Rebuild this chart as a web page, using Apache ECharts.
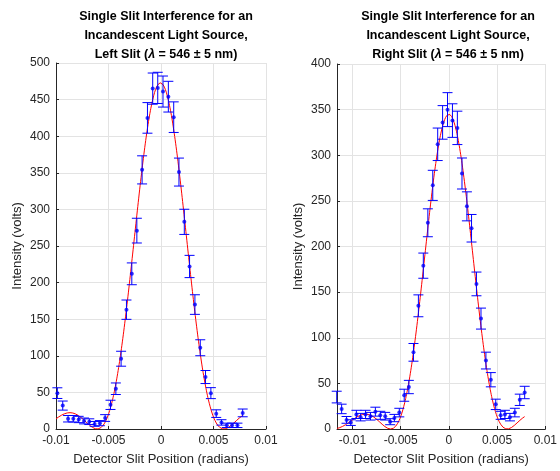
<!DOCTYPE html>
<html>
<head>
<meta charset="utf-8">
<script src="https://cdn.jsdelivr.net/npm/echarts@6/dist/echarts.min.js"></script>
<style>
  html, body { margin: 0; padding: 0; background: #fff; }
  #main { width: 560px; height: 471px; }
</style>
</head>
<body>
<div id="main"></div>
<script>
// left slit measurements
var leftX = [-0.00987, -0.00936, -0.00885, -0.00835, -0.00784, -0.00733, -0.00683, -0.00632, -0.00582, -0.00532,
    -0.00481, -0.00430, -0.00380, -0.00329, -0.00278, -0.00230, -0.00180, -0.00129, -0.00079, -0.00031,
    0.00019, 0.00070, 0.00121, 0.00171, 0.00222, 0.00272, 0.00323, 0.00374, 0.00424, 0.00475,
    0.00526, 0.00576, 0.00627, 0.00677, 0.00728, 0.00778];
var leftY = [49, 32, 14, 14, 13, 11, 10, 7, 8, 15,
    33, 55, 96, 163, 212, 271, 354, 425, 465, 466,
    461, 454, 426, 351, 283, 222, 170, 111, 71, 49,
    21, 9, 5, 5, 5, 22];
var leftErr = [7.3, 6.2, 4.4, 4.4, 4.3, 4.0, 3.9, 3.3, 3.5, 4.6,
    6.3, 7.9, 10.2, 13.2, 14.9, 16.9, 19.2, 20.9, 21.3, 21.3,
    21.2, 21.0, 20.9, 19.1, 17.2, 15.2, 13.4, 10.9, 8.9, 7.5,
    5.2, 3.7, 3.0, 3.0, 3.0, 5.3];

// right slit measurements
var rightX = [-0.01163, -0.01112, -0.01061, -0.01017, -0.00959, -0.00915, -0.00864, -0.00813, -0.00762, -0.00711,
    -0.00660, -0.00609, -0.00565, -0.00514, -0.00463, -0.00415, -0.00367, -0.00316, -0.00265, -0.00218,
    -0.00167, -0.00116, -0.00065, -0.00014, 0.00037, 0.00088, 0.00136, 0.00187, 0.00235, 0.00286,
    0.00333, 0.00384, 0.00435, 0.00486, 0.00537, 0.00581, 0.00633, 0.00684, 0.00735, 0.00786];
var rightY = [35, 22, 10, 7, 16, 13, 16, 14, 19, 15,
    14, 8, 12, 18, 37, 46, 84, 135, 179, 226,
    267, 312, 336, 350, 338, 330, 280, 244, 220, 159,
    121, 75, 54, 27, 15, 16, 13, 18, 32, 40];
var rightErr = [6.4, 5.2, 3.7, 3.1, 4.5, 4.1, 4.5, 4.2, 4.9, 4.4,
    4.2, 3.3, 4.0, 4.7, 6.6, 7.3, 9.7, 12.0, 13.8, 15.3,
    16.5, 17.8, 18.4, 18.6, 18.4, 18.3, 17.0, 15.9, 15.1, 13.0,
    11.5, 9.2, 7.8, 5.7, 4.4, 4.5, 4.1, 4.7, 6.2, 6.8];

// sinc^2 fit parameters
var leftFit = {amp: 473, center: -0.00005, zero: 0.00603, from: -0.0100, to: 0.0078};
var rightFit = {amp: 345, center: 0.0, zero: 0.00604, from: -0.0116, to: 0.0079};

var xTicks = [-0.01, -0.005, 0, 0.005, 0.01];
var leftTitle = 'Single Slit Interference for an\nIncandescent Light Source,\n{t|Left Slit (}{i|λ}{t| = 546 ± 5 nm)}';
var rightTitle = 'Single Slit Interference for an\nIncandescent Light Source,\n{t|Right Slit (}{i|λ}{t| = 546 ± 5 nm)}';

var FONT = 'Liberation Sans, Arial, Helvetica, sans-serif';
var AXIS_COLOR = '#262626';

function fitCurve(p) {
    var pts = [];
    var steps = 400;
    for (var i = 0; i <= steps; i++) {
        var x = p.from + (p.to - p.from) * i / steps;
        var u = Math.PI * (x - p.center) / p.zero;
        var s = Math.abs(u) < 1e-9 ? 1 : Math.sin(u) / u;
        pts.push([x, p.amp * s * s]);
    }
    return pts;
}

function pairs(xs, ys) {
    return xs.map(function (x, i) { return [x, ys[i]]; });
}

function errData(xs, ys, es) {
    return xs.map(function (x, i) { return [x, ys[i] - es[i], ys[i] + es[i]]; });
}

function errRender(params, api) {
    var x = api.value(0);
    var top = api.coord([x, api.value(2)]);
    var bot = api.coord([x, api.value(1)]);
    var w = 5;
    var st = {stroke: '#0000ff', lineWidth: 1};
    return {
        type: 'group',
        children: [
            {type: 'line', shape: {x1: top[0], y1: top[1], x2: bot[0], y2: bot[1]}, style: st},
            {type: 'line', shape: {x1: top[0] - w, y1: top[1], x2: top[0] + w, y2: top[1]}, style: st},
            {type: 'line', shape: {x1: bot[0] - w, y1: bot[1], x2: bot[0] + w, y2: bot[1]}, style: st}
        ]
    };
}

function tickFmt(v) {
    if (Math.abs(v) < 1e-9) return '0';
    return String(Math.round(v * 1000) / 1000);
}

function xAxisOpt(idx, min, max) {
    return {
        type: 'value', gridIndex: idx, min: min, max: max,
        name: 'Detector Slit Position (radians)', nameLocation: 'middle', nameGap: 24,
        nameTextStyle: {color: AXIS_COLOR, fontSize: 13, fontFamily: FONT},
        axisLine: {onZero: false, lineStyle: {color: AXIS_COLOR}},
        axisTick: {inside: true, length: 3, lineStyle: {color: AXIS_COLOR}, customValues: xTicks},
        axisLabel: {color: AXIS_COLOR, fontSize: 12, fontFamily: FONT, margin: 6, formatter: tickFmt, customValues: xTicks},
        splitLine: {show: true, lineStyle: {color: '#e3e3e3'}}
    };
}

function yAxisOpt(idx, max) {
    return {
        type: 'value', gridIndex: idx, min: 0, max: max, interval: 50,
        name: 'Intensity (volts)', nameLocation: 'middle', nameGap: 32,
        nameTextStyle: {color: AXIS_COLOR, fontSize: 13, fontFamily: FONT},
        axisLine: {show: true, onZero: false, lineStyle: {color: AXIS_COLOR}},
        axisTick: {show: true, inside: true, length: 3, lineStyle: {color: AXIS_COLOR}},
        axisLabel: {color: AXIS_COLOR, fontSize: 12, fontFamily: FONT, margin: 6},
        splitLine: {show: true, lineStyle: {color: '#e3e3e3'}}
    };
}

function titleOpt(text, cx) {
    return {
        text: text, left: cx, top: 2, textAlign: 'center',
        textStyle: {
            fontSize: 12.5, fontWeight: 'bold', color: '#000', fontFamily: FONT, lineHeight: 19,
            rich: {
                t: {fontSize: 12.5, fontWeight: 'bold', color: '#000', fontFamily: FONT, lineHeight: 19},
                i: {fontSize: 12.5, fontWeight: 'bold', fontStyle: 'italic', color: '#000', fontFamily: FONT, lineHeight: 19}
            }
        }
    };
}

var chart = echarts.init(document.getElementById('main'), null, {renderer: 'canvas'});
var option = {
    backgroundColor: '#ffffff',
    animation: false,
    title: [titleOpt(leftTitle, 161), titleOpt(rightTitle, 443)],
    grid: [
        {left: 56, top: 63, width: 210, height: 367},
        {left: 337, top: 64, width: 211, height: 366}
    ],
    xAxis: [xAxisOpt(0, -0.01, 0.01), xAxisOpt(1, -0.0116, 0.01)],
    yAxis: [yAxisOpt(0, 500), yAxisOpt(1, 400)],
    series: [
        {
            type: 'line', xAxisIndex: 0, yAxisIndex: 0, data: fitCurve(leftFit),
            showSymbol: false, lineStyle: {color: '#ff0000', width: 1}, z: 2
        },
        {
            type: 'custom', xAxisIndex: 0, yAxisIndex: 0, renderItem: errRender,
            data: errData(leftX, leftY, leftErr), z: 3
        },
        {
            type: 'scatter', xAxisIndex: 0, yAxisIndex: 0, data: pairs(leftX, leftY),
            symbolSize: 4, itemStyle: {color: '#0000ff'}, z: 4
        },
        {
            type: 'line', xAxisIndex: 1, yAxisIndex: 1, data: fitCurve(rightFit),
            showSymbol: false, lineStyle: {color: '#ff0000', width: 1}, z: 2
        },
        {
            type: 'custom', xAxisIndex: 1, yAxisIndex: 1, renderItem: errRender,
            data: errData(rightX, rightY, rightErr), z: 3
        },
        {
            type: 'scatter', xAxisIndex: 1, yAxisIndex: 1, data: pairs(rightX, rightY),
            symbolSize: 4, itemStyle: {color: '#0000ff'}, z: 4
        }
    ]
};
chart.setOption(option);
</script>
</body>
</html>
